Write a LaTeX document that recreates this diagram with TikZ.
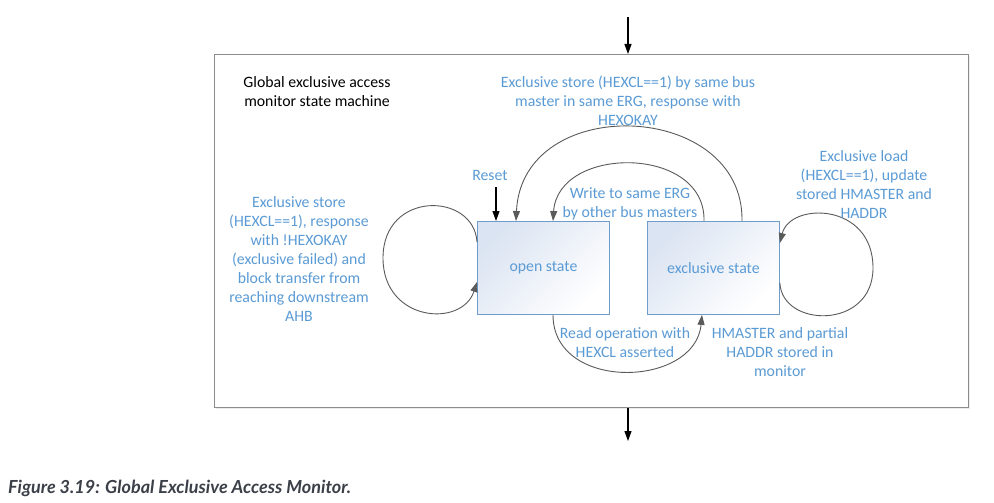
\documentclass[tikz,border=0pt]{standalone}
\usepackage{fontspec}
\setmainfont{Carlito}
\newfontfamily\capfont{Lato}
\usetikzlibrary{arrows.meta,calc,shadows}
\definecolor{lblblue}{HTML}{5B9BD5}
\definecolor{boxblue}{HTML}{6F9CCB}
\definecolor{boxfill}{HTML}{DBE4F2}
\definecolor{arrgray}{HTML}{5A5A5A}
\definecolor{framegray}{HTML}{8C8C8C}
\definecolor{capgray}{HTML}{3B3F47}
\tikzset{
  lbl/.style={inner sep=0pt, align=center, text=lblblue, font=\fontsize{15.8}{19}\selectfont},
  statebox/.style={draw=boxblue, line width=0.9pt, minimum width=132pt, minimum height=93pt,
    shading=axis, top color=boxfill, bottom color=white, shading angle=45,
    text=lblblue, font=\fontsize{15.8}{19}\selectfont},
  trans/.style={draw=arrgray, line width=0.9pt, -{Triangle[length=10pt,width=7pt]}},
  blk/.style={draw=black, line width=1.1pt, -{Triangle[length=10pt,width=7pt]}},
}
\begin{document}
\begin{tikzpicture}[x=1pt,y=-1pt]
\useasboundingbox (0,0) rectangle (994,503);
% frame
\node[draw=framegray, line width=1.3pt, fill=white, minimum width=754pt, minimum height=353pt,
  inner sep=0pt, anchor=north west,
  drop shadow={shadow xshift=1.5pt, shadow yshift=-1.5pt, fill=black!12, opacity=0.6}] (frame) at (214,54) {};
% title
\node[inner sep=0pt, align=center, font=\fontsize{15.8}{19}\selectfont] (title) at (317,91.5)
  {Global exclusive access\\monitor state machine};
% states
\node[statebox, anchor=north west] (open) at (477,221) {open state};
\node[statebox, anchor=north west] (excl) at (647,221) {exclusive state};
% external arrows
\coordinate (topin) at (628,17);
\coordinate (botout) at (628,441);
\draw[blk] (topin) -- (topin |- frame.north);
\draw[blk] (botout |- frame.south) -- (botout);
% reset
\node[lbl] (reset) at (490,175) {Reset};
\coordinate (resetstart) at (496,187);
\draw[blk] (resetstart) -- (resetstart |- open.north);
% big arc exclusive -> open
\draw[trans] ($(excl.north west)+(95,0)$) .. controls (744,100) and (522,92) .. ($(open.north west)+(39,0)$);
\node[lbl] (toplbl) at (628,101) {Exclusive store (HEXCL==1) by same bus\\master in same ERG, response with\\HEXOKAY};
% inner arc exclusive -> open
\draw[trans] ($(excl.north west)+(57,0)$) .. controls (706,145) and (558,145) .. ($(open.north west)+(76,0)$);
\node[lbl] (writelbl) at (630,204) {Write to same ERG\\by other bus masters};
% bottom arc open -> exclusive
\draw[trans] ($(open.south west)+(76,0)$) .. controls (553,392) and (695,388) .. ($(excl.south west)+(55,0)$);
\node[lbl] (readlbl) at (625,342.5) {Read operation with\\HEXCL asserted};
% left self loop
\draw[trans] ($(open.north west)+(0,21)$) .. controls (474,192) and (383,190) .. (383,258)
  .. controls (383,322) and (462,328) .. ($(open.north west)+(0,61)$);
\node[lbl] (leftlbl) at (299,259) {Exclusive store\\(HEXCL==1), response\\with !HEXOKAY\\(exclusive failed) and\\block transfer from\\reaching downstream\\AHB};
% right self loop
\draw[trans] ($(excl.north east)+(0,62)$) .. controls (782,328) and (873,330) .. (873,268)
  .. controls (873,202) and (790,202) .. ($(excl.north east)+(0,22)$);
\node[lbl] (loadlbl) at (864,184.5) {Exclusive load\\(HEXCL==1), update\\stored HMASTER and\\HADDR};
\node[lbl] (hmlbl) at (780,352) {HMASTER and partial\\HADDR stored in\\monitor};
% caption
\node[inner sep=0pt, anchor=west, text=capgray, font=\capfont\bfseries\itshape\fontsize{18}{21}\selectfont] (caption) at (8,488)
  {Figure 3.19: Global Exclusive Access Monitor.};
\end{tikzpicture}
\end{document}
